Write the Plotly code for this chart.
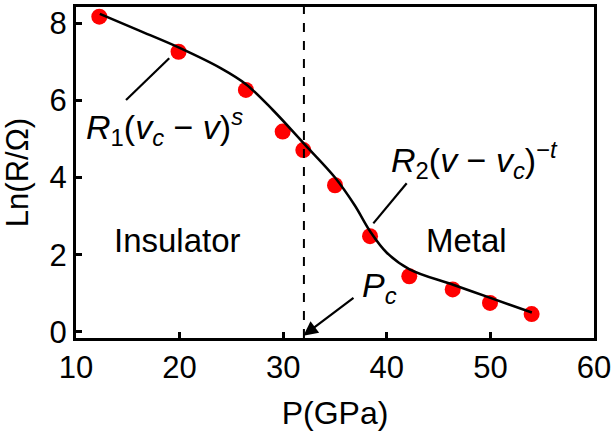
import plotly.graph_objects as go

# Data
pressure = [12.25, 19.9, 26.4, 29.95, 31.94, 35.0, 38.38, 42.17, 46.36, 49.96, 53.98]
ln_r = [8.17, 7.26, 6.27, 5.19, 4.71, 3.80, 2.48, 1.44, 1.10, 0.75, 0.46]

fit_p = [12.3, 16, 20, 24, 26.4, 29, 32, 35, 36.9, 38.4, 40, 42.2, 46.4, 50, 54]
fit_ln = [8.24, 7.82, 7.36, 6.83, 6.42, 5.75, 4.88, 4.00, 3.28, 2.60, 2.05, 1.62, 1.22, 0.88, 0.50]

p_c = 32.0
x_ticks = [10, 20, 30, 40, 50, 60]
y_ticks = [0, 2, 4, 6, 8]

FONT = "Liberation Sans, Arial, sans-serif"

fig = go.Figure()
fig.add_trace(go.Scatter(x=pressure, y=ln_r, mode="markers",
                         marker=dict(color="#ff0000", size=16, line=dict(width=0)),
                         showlegend=False))
fig.add_trace(go.Scatter(x=fit_p, y=fit_ln, mode="lines",
                         line=dict(color="black", width=2.5, shape="spline", smoothing=1.0),
                         showlegend=False))

# Vertical dashed line at Pc
fig.add_shape(type="line", xref="x", yref="paper", x0=p_c, x1=p_c, y0=0, y1=1,
              line=dict(color="black", width=2, dash="dash"))

# Leader lines
fig.add_shape(type="line", xref="x", yref="y", x0=14.83, y0=6.01, x1=19.0, y1=7.09,
              line=dict(color="black", width=2.2))
fig.add_shape(type="line", xref="x", yref="y", x0=38.7, y0=2.81, x1=41.92, y1=3.85,
              line=dict(color="black", width=2.2))

# Arrow to Pc
fig.add_annotation(x=31.95, y=-0.1, ax=36.93, ay=0.91, xref="x", yref="y",
                   axref="x", ayref="y", text="", showarrow=True,
                   arrowhead=2, arrowsize=1.3, arrowwidth=2.2, arrowcolor="black")

mfont = dict(family=FONT, size=34, color="black")
tfont = dict(family=FONT, size=33, color="black")
fig.add_annotation(x=18.54, y=5.3, xref="x", yref="y", showarrow=False,
                   text="<i>R</i><sub>1</sub>(<i>v</i><sub><i>c</i></sub> − <i>v</i>)<sup><i>s</i></sup>",
                   font=mfont)
fig.add_annotation(x=48.5, y=4.45, xref="x", yref="y", showarrow=False,
                   text="<i>R</i><sub>2</sub>(<i>v</i> − <i>v</i><sub><i>c</i></sub>)<sup>−<i>t</i></sup>",
                   font=mfont)
fig.add_annotation(x=39.3, y=1.15, xref="x", yref="y", showarrow=False,
                   text="<i>P</i><sub><i>c</i></sub>", font=mfont)
fig.add_annotation(x=19.8, y=2.36, xref="x", yref="y", showarrow=False,
                   text="Insulator", font=tfont)
fig.add_annotation(x=47.7, y=2.36, xref="x", yref="y", showarrow=False,
                   text="Metal", font=tfont)

axis_common = dict(showline=True, mirror=True, linecolor="black", linewidth=3,
                   ticks="inside", ticklen=6, tickwidth=2.5, tickcolor="black",
                   showgrid=False, zeroline=False, automargin=False,
                   tickfont=dict(family=FONT, size=31, color="black"))

fig.update_layout(
    width=616, height=432,
    margin=dict(l=76, r=22, t=7, b=94),
    paper_bgcolor="white", plot_bgcolor="white",
    xaxis=dict(range=[10, 60], tickvals=x_ticks,
               title=dict(text="P(GPa)", font=dict(family=FONT, size=32, color="black"), standoff=18),
               **axis_common),
    yaxis=dict(range=[-0.16, 8.42], tickvals=y_ticks,
               title=dict(text="Ln(R/Ω)", font=dict(family=FONT, size=31, color="black"), standoff=22),
               **axis_common),
)

fig.write_html("out.html")
